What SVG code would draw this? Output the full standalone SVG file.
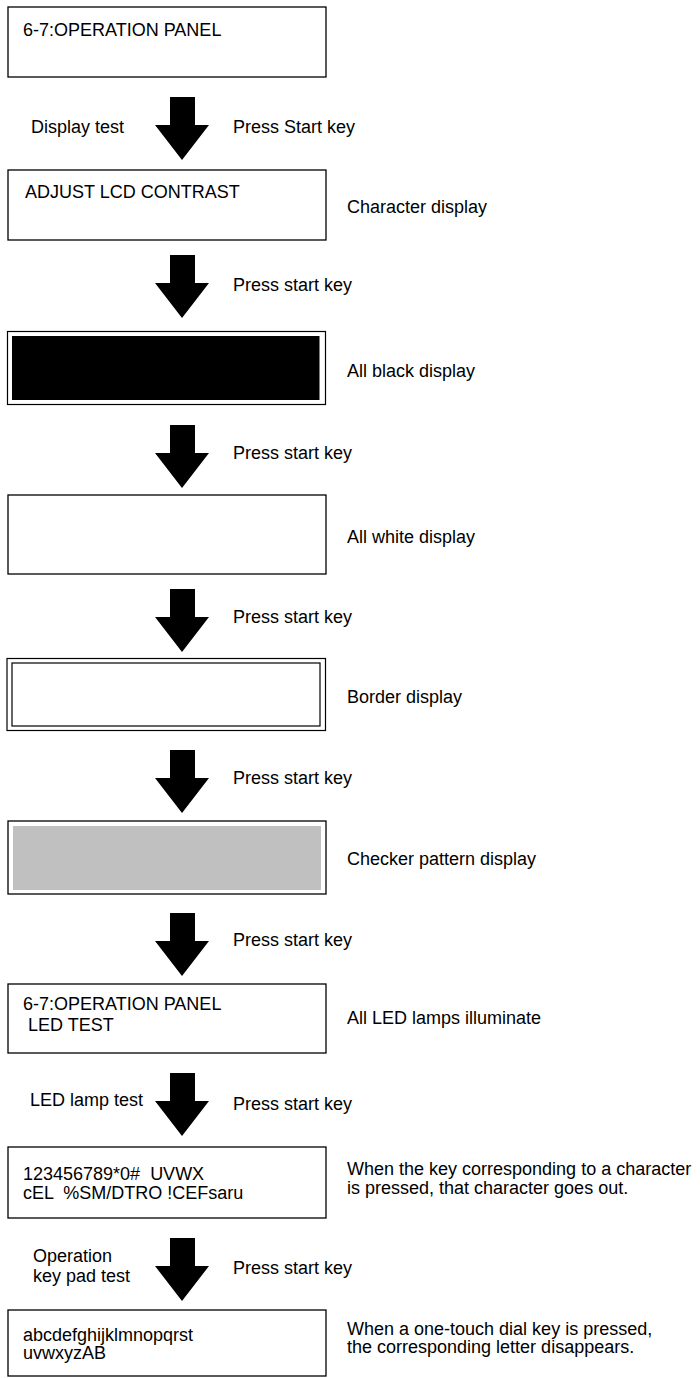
<svg xmlns="http://www.w3.org/2000/svg" xmlns:xlink="http://www.w3.org/1999/xlink" width="700" height="1378" viewBox="0 0 700 1378">
<style>
text{font-family:"Liberation Sans",Arial,sans-serif;font-size:18px;fill:#000;white-space:pre}
.box{fill:#fff;stroke:#000;stroke-width:1.3}
.thin{fill:none;stroke:#000;stroke-width:1.2}
</style>
<defs>
<path id="arr" d="M170,0 H195 V28 H209 L182,63 L155,28 H170 Z" fill="#000"/>
</defs>
<rect width="700" height="1378" fill="#fff"/>
<g id="connectors">
<use xlink:href="#arr" href="#arr" transform="translate(0,97)"/>
<use xlink:href="#arr" href="#arr" transform="translate(0,255)"/>
<use xlink:href="#arr" href="#arr" transform="translate(0,425)"/>
<use xlink:href="#arr" href="#arr" transform="translate(0,589)"/>
<use xlink:href="#arr" href="#arr" transform="translate(0,750)"/>
<use xlink:href="#arr" href="#arr" transform="translate(0,913)"/>
<use xlink:href="#arr" href="#arr" transform="translate(0,1073)"/>
<use xlink:href="#arr" href="#arr" transform="translate(0,1238)"/>
<text x="31" y="133">Display test</text>
<text x="233" y="133">Press Start key</text>
<text x="233" y="291">Press start key</text>
<text x="233" y="459">Press start key</text>
<text x="233" y="623">Press start key</text>
<text x="233" y="784">Press start key</text>
<text x="233" y="946">Press start key</text>
<text x="30" y="1106">LED lamp test</text>
<text x="233" y="1110">Press start key</text>
<text x="33" y="1262">Operation</text>
<text x="33" y="1282">key pad test</text>
<text x="233" y="1274">Press start key</text>
</g>
<g id="n1">
<rect class="box" x="8" y="7" width="318" height="70"/>
<text x="23" y="36">6-7:OPERATION PANEL</text>
</g>
<g id="n2">
<rect class="box" x="8" y="170" width="318" height="70"/>
<text x="25" y="198">ADJUST LCD CONTRAST</text>
<text x="347" y="213">Character display</text>
</g>
<g id="n3">
<rect class="thin" x="7.5" y="331.5" width="318" height="73"/>
<rect x="12" y="336" width="307.5" height="64" fill="#000"/>
<text x="347" y="377">All black display</text>
</g>
<g id="n4">
<rect class="box" x="8" y="495" width="318" height="79"/>
<text x="347" y="543">All white display</text>
</g>
<g id="n5">
<rect class="thin" x="7" y="658.5" width="318.5" height="72" stroke-width="1.3"/>
<rect class="thin" x="12" y="663" width="308" height="63" stroke-width="1.5"/>
<text x="347" y="703">Border display</text>
</g>
<g id="n6">
<rect class="box" x="8" y="821" width="318" height="73"/>
<rect x="13" y="826" width="308" height="64" fill="#c0c0c0"/>
<text x="347" y="865">Checker pattern display</text>
</g>
<g id="n7">
<rect class="box" x="8" y="984" width="318" height="69"/>
<text x="23" y="1010">6-7:OPERATION PANEL</text>
<text x="23" y="1031"> LED TEST</text>
<text x="347" y="1024">All LED lamps illuminate</text>
</g>
<g id="n8">
<rect class="box" x="8" y="1147" width="318" height="71"/>
<text x="23" y="1180">123456789*0#  UVWX</text>
<text x="23" y="1199">cEL  %SM/DTRO !CEFsaru</text>
<text x="347" y="1175">When the key corresponding to a character</text>
<text x="347" y="1194">is pressed, that character goes out.</text>
</g>
<g id="n9">
<rect class="box" x="8" y="1310" width="318" height="66"/>
<text x="23" y="1341">abcdefghijklmnopqrst</text>
<text x="23" y="1359">uvwxyzAB</text>
<text x="347" y="1335">When a one-touch dial key is pressed,</text>
<text x="347" y="1353">the corresponding letter disappears.</text>
</g>
</svg>
